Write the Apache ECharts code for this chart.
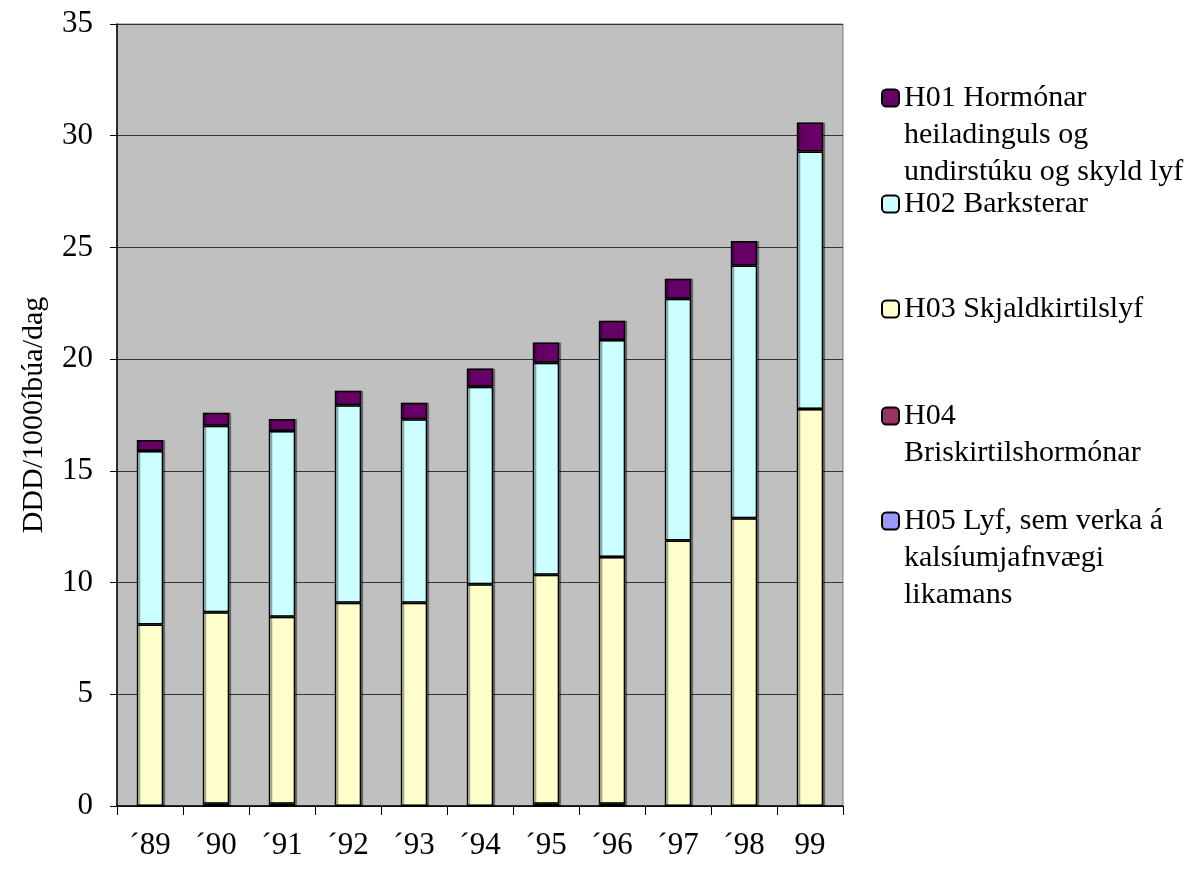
<!DOCTYPE html>
<html>
<head>
<meta charset="utf-8">
<script src="https://cdn.jsdelivr.net/npm/echarts@6/dist/echarts.min.js"></script>
<style>
  html, body { margin: 0; padding: 0; background: #fff; }
  #chart { width: 1188px; height: 869px; }
</style>
</head>
<body>
<div id="chart"></div>
<script>
// ár
var years = ["´89", "´90", "´91", "´92", "´93", "´94", "´95", "´96", "´97", "´98", "99"];

// DDD/1000 íbúa/dag, lesið af myndinni
var h01 = [0.49, 0.58, 0.54, 0.65, 0.74, 0.82, 0.90, 0.86, 0.90, 1.10, 1.30];
var h02 = [7.77, 8.35, 8.31, 8.84, 8.21, 8.84, 9.49, 9.71, 10.82, 11.31, 11.52];
var h03 = [8.12, 8.57, 8.37, 9.10, 9.10, 9.92, 10.25, 11.05, 11.88, 12.88, 17.77];
var h04 = [0, 0.1, 0.1, 0, 0, 0, 0.1, 0.1, 0, 0, 0];
var h05 = [0, 0, 0, 0, 0, 0, 0, 0, 0, 0, 0];

var yTicks = { min: 0, max: 35, interval: 5 };

var names = {
  h01: "H01 Hormónar heiladinguls og undirstúku og skyld lyf",
  h02: "H02 Barksterar",
  h03: "H03 Skjaldkirtilslyf",
  h04: "H04 Briskirtilshormónar",
  h05: "H05 Lyf, sem verka á kalsíumjafnvægi likamans"
};
// línuskipting í skýringum
var legendLines = {};
legendLines[names.h01] = ["H01 Hormónar", "heiladinguls og", "undirstúku og skyld lyf"];
legendLines[names.h02] = ["H02 Barksterar"];
legendLines[names.h03] = ["H03 Skjaldkirtilslyf"];
legendLines[names.h04] = ["H04", "Briskirtilshormónar"];
legendLines[names.h05] = ["H05 Lyf, sem verka á", "kalsíumjafnvægi", "likamans"];

var font = "'Times New Roman', 'Liberation Serif', serif";
var lineH = 37;

var myChart = echarts.init(document.getElementById("chart"));

function bar(name, data, color) {
  return {
    name: name,
    type: "bar",
    stack: "total",
    barWidth: "40%",
    data: data,
    itemStyle: {
      color: color,
      borderColor: "#000",
      borderWidth: 1.5,
      shadowColor: "rgba(0,0,0,0.35)",
      shadowOffsetX: 2,
      shadowOffsetY: 0,
      shadowBlur: 0
    }
  };
}

// ein skýring fyrir hverja röð, táknið við fyrstu línu
function legendFor(name, iconY) {
  var lines = legendLines[name];
  var pad = lines.length - 1; // auðar línur ofan við svo táknið lendi við fyrstu línu
  var total = lines.length + pad;
  var text = [];
  for (var i = 0; i < pad; i++) text.push("");
  text = text.concat(lines).join("\n");
  return {
    data: [name],
    left: 881,
    top: iconY - (total * lineH) / 2,
    padding: 0,
    itemWidth: 17,
    itemHeight: 17,
    selectedMode: false,
    formatter: function () { return text; },
    textStyle: { fontFamily: font, fontSize: 30, color: "#000", lineHeight: lineH }
  };
}

var option = {
  animation: false,
  grid: {
    left: 117,
    right: 345,
    top: 24,
    bottom: 63,
    show: true,
    backgroundColor: "#C0C0C0",
    borderColor: "#808080",
    borderWidth: 1
  },
  legend: [
    legendFor(names.h01, 98),
    legendFor(names.h02, 204),
    legendFor(names.h03, 309),
    legendFor(names.h04, 416),
    legendFor(names.h05, 521)
  ],
  xAxis: {
    type: "category",
    data: years,
    axisLine: { lineStyle: { color: "#000", width: 1.5 } },
    axisTick: { show: true, length: 9, lineStyle: { color: "#000", width: 1 } },
    axisLabel: { fontFamily: font, fontSize: 31, color: "#000", margin: 24 }
  },
  yAxis: {
    type: "value",
    min: yTicks.min,
    max: yTicks.max,
    interval: yTicks.interval,
    name: "DDD/1000íbúa/dag",
    nameLocation: "middle",
    nameGap: 68,
    nameTextStyle: { fontFamily: font, fontSize: 30, color: "#000" },
    axisLine: { show: true, lineStyle: { color: "#000", width: 1.5 } },
    axisTick: { show: true, length: 7, lineStyle: { color: "#000" } },
    axisLabel: { fontFamily: font, fontSize: 31, color: "#000", margin: 24 },
    splitLine: { show: true, lineStyle: { color: "#333", width: 1 } }
  },
  series: [
    bar(names.h05, h05, "#9999FF"),
    bar(names.h04, h04, "#993366"),
    bar(names.h03, h03, "#FFFFCC"),
    bar(names.h02, h02, "#CCFFFF"),
    bar(names.h01, h01, "#660066")
  ]
};

myChart.setOption(option);
</script>
</body>
</html>
